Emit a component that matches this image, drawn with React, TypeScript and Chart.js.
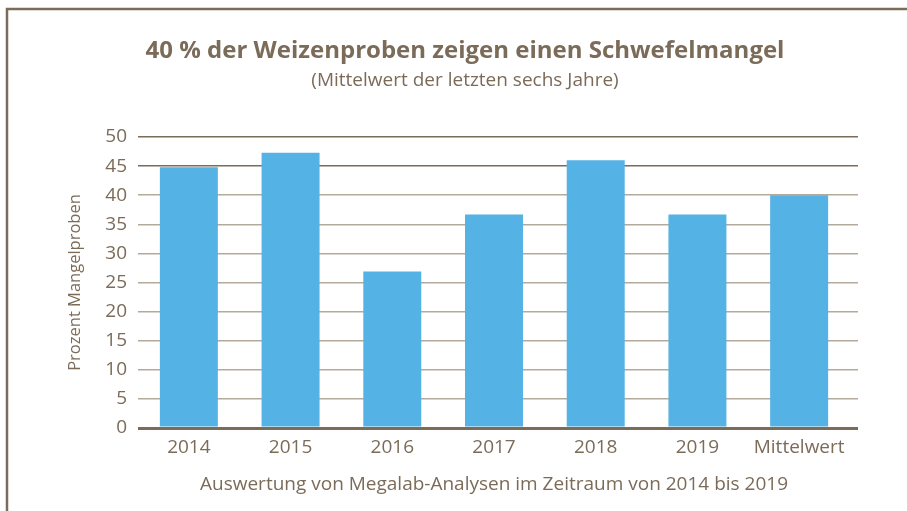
import React, { useEffect, useRef } from "react";
import { Chart, registerables } from "chart.js";

Chart.register(...registerables);

const categories = ["2014", "2015", "2016", "2017", "2018", "2019", "Mittelwert"];
const values = [44.8, 47.3, 26.9, 36.7, 46.0, 36.7, 40.0];
const titleText = "40 % der Weizenproben zeigen einen Schwefelmangel";
const subtitleText = "(Mittelwert der letzten sechs Jahre)";
const yAxisTitle = "Prozent Mangelproben";
const xAxisTitle = "Auswertung von Megalab-Analysen im Zeitraum von 2014 bis 2019";

const BROWN = "#7b6b59";
const LIGHT = "#b3a99c";
const BLUE = "#54b2e4";
const FONT = "'Open Sans', sans-serif";
const GRID_EXTEND = 8;

const gridColor = (v: number) => (v >= 45 || v === 0 ? BROWN : LIGHT);
const gridWidth = (v: number) => (v === 0 ? 3 : 1.5);

const alignPx = (p: number, w: number) => {
  const h = w / 2;
  return Math.round(p - h) + h;
};

const decorPlugin = {
  id: "decor",
  beforeDatasetsDraw(chart: any) {
    // extend the y grid lines a little past the category area, as in the original
    const ctx = chart.ctx;
    const y = chart.scales.y;
    const { right } = chart.chartArea;
    ctx.save();
    y.ticks.forEach((t: any) => {
      const w = gridWidth(t.value);
      const py = alignPx(y.getPixelForValue(t.value), w);
      ctx.strokeStyle = gridColor(t.value);
      ctx.lineWidth = w;
      ctx.beginPath();
      ctx.moveTo(right, py);
      ctx.lineTo(right + GRID_EXTEND, py);
      ctx.stroke();
    });
    ctx.restore();
  },
  afterDraw(chart: any) {
    const ctx = chart.ctx;
    ctx.save();
    ctx.strokeStyle = BROWN;
    ctx.lineWidth = 2.5;
    ctx.beginPath();
    ctx.moveTo(907, 9);
    ctx.lineTo(7, 9);
    ctx.lineTo(7, 511);
    ctx.stroke();
    ctx.fillStyle = BROWN;
    ctx.textAlign = "center";
    ctx.textBaseline = "middle";
    ctx.font = `bold 24px ${FONT}`;
    ctx.fillText(titleText, 465, 51);
    ctx.font = `19px ${FONT}`;
    ctx.fillText(subtitleText, 465, 81);
    ctx.restore();
  },
};

export default function App() {
  const ref = useRef<HTMLCanvasElement | null>(null);
  useEffect(() => {
    document.body.style.margin = "0";
    const chart = new Chart(ref.current as HTMLCanvasElement, {
      type: "bar",
      data: {
        labels: categories,
        datasets: [
          {
            data: values,
            backgroundColor: BLUE,
            borderWidth: 0,
            barPercentage: 0.57,
            categoryPercentage: 1,
          },
        ],
      },
      options: {
        animation: false,
        responsive: false,
        events: [],
        layout: { padding: { left: 55, right: 57, top: 137, bottom: 0 } },
        plugins: { legend: { display: false }, tooltip: { enabled: false } },
        scales: {
          x: {
            grid: { display: false, drawTicks: false },
            border: { display: false },
            ticks: { color: BROWN, font: { family: FONT, size: 19 }, padding: 8, maxRotation: 0 },
            title: {
              display: true,
              text: xAxisTitle,
              color: BROWN,
              font: { family: FONT, size: 19 },
              padding: { top: 4, bottom: 15 },
            },
            afterFit: (s: any) => {
              s.height = 83;
            },
          },
          y: {
            min: 0,
            max: 50,
            ticks: { stepSize: 5, color: BROWN, font: { family: FONT, size: 19 }, padding: 11 },
            grid: {
              drawTicks: false,
              color: (c: any) => gridColor(c.tick ? c.tick.value : 1),
              lineWidth: (c: any) => gridWidth(c.tick ? c.tick.value : 1),
            },
            border: { display: false },
            title: {
              display: true,
              text: yAxisTitle,
              color: BROWN,
              font: { family: FONT, size: 16.5 },
              padding: { top: 10, bottom: 4 },
            },
            afterFit: (s: any) => {
              s.width = 83;
            },
          },
        },
      },
      plugins: [decorPlugin],
    });
    return () => chart.destroy();
  }, []);
  return (
    <div style={{ width: 907, height: 511, position: "relative" }}>
      <canvas ref={ref} width={907} height={511} style={{ display: "block" }} />
    </div>
  );
}
